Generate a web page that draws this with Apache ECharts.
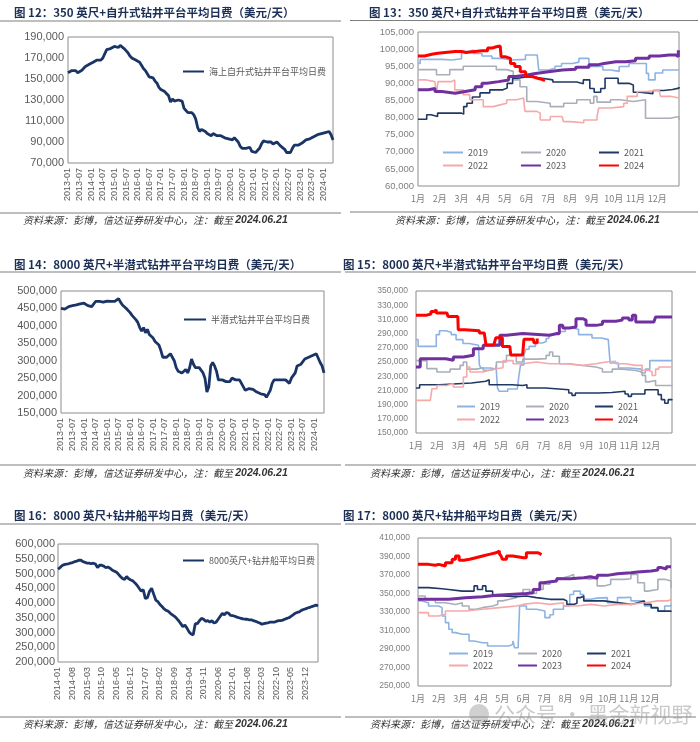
<!DOCTYPE html>
<html><head><meta charset="utf-8">
<script src="https://cdn.jsdelivr.net/npm/echarts@6/dist/echarts.min.js"></script>
<style>html,body{margin:0;padding:0;background:#fff}#c{width:700px;height:742px}</style>
</head><body><div id="c"></div>
<script>
// ---------- tick labels ----------
const monthLabels = ['1月','2月','3月','4月','5月','6月','7月','8月','9月','10月','11月','12月'];
function monthRange(y0, m0, n){ const out=[]; let y=y0, m=m0; for(let i=0;i<n;i++){ out.push(y+'-'+(m<10?'0'+m:m)); m++; if(m>12){m=1;y++;} } return out; }
const catsJack = monthRange(2013,1,138);
const catsSemi = monthRange(2013,1,138);
const catsDrill = monthRange(2014,1,126);
const yearNames = ['2019','2020','2021','2022','2023','2024'];

// ---------- long series (USD/day, monthly) ----------
const jackLong = [
156000,157000,158000,157000,158000,156000,155000,158000,160000,162000,161000,164000,
165000,166000,167000,168000,167000,168000,170000,170000,178000,179000,179000,180000,
181000,181000,180000,182000,181000,179000,177000,175000,172000,170000,169000,168000,
167000,166000,163000,160000,158000,155000,152000,153000,151000,148000,146000,142000,
140000,139000,138000,136000,134000,128000,131000,129000,130000,130000,131000,129000,
122000,120000,118000,119000,118000,116000,112000,104000,100000,102000,101000,100000,
98000,97000,96000,98000,97000,96000,97000,96000,95000,94000,95000,93000,
93000,92000,94000,93000,90000,86000,84000,85000,84000,83000,85000,81000,
80000,80000,81000,84000,88000,91000,91000,90000,89000,90000,88000,89000,
90000,88000,86000,85000,83000,80000,79000,80000,84000,87000,88000,87000,
88000,89000,90000,92000,92000,93000,94000,95000,96000,97000,98000,98000,
98000,99000,99000,100000,97000,92000];
const semiLong = [
450000,445000,448000,452000,455000,456000,458000,458000,460000,462000,463000,465000,
465000,462000,458000,455000,455000,452000,470000,468000,470000,470000,468000,470000,
471000,468000,470000,472000,470000,472000,478000,468000,460000,455000,450000,445000,
438000,430000,425000,418000,410000,395000,385000,395000,380000,390000,375000,370000,
365000,355000,350000,345000,330000,310000,305000,310000,305000,320000,325000,300000,
280000,270000,265000,265000,270000,275000,265000,280000,305000,290000,280000,275000,
280000,275000,265000,250000,210000,225000,285000,295000,285000,270000,245000,240000,
245000,250000,240000,245000,240000,250000,255000,245000,240000,245000,235000,225000,
215000,218000,220000,215000,218000,215000,210000,205000,205000,208000,203000,195000,
198000,215000,235000,245000,247000,245000,243000,245000,248000,245000,247000,235000,
250000,255000,265000,285000,290000,290000,295000,305000,310000,310000,312000,315000,
318000,320000,315000,295000,285000,265000];
const drillLong = [
515000,520000,527000,530000,532000,533000,535000,537000,540000,542000,545000,545000,
540000,538000,535000,535000,533000,535000,532000,520000,528000,528000,525000,520000,
522000,518000,512000,508000,505000,498000,490000,483000,480000,490000,482000,478000,
475000,468000,460000,450000,440000,445000,415000,418000,440000,450000,430000,410000,
405000,395000,388000,380000,375000,372000,365000,360000,355000,348000,340000,330000,
320000,325000,315000,302000,295000,292000,330000,330000,340000,348000,345000,338000,
340000,335000,340000,332000,335000,345000,355000,365000,360000,368000,365000,358000,
357000,355000,352000,350000,348000,346000,345000,345000,343000,343000,340000,338000,
335000,332000,328000,330000,332000,333000,335000,335000,335000,338000,340000,340000,
342000,345000,348000,350000,355000,360000,365000,368000,370000,375000,378000,380000,
383000,385000,388000,390000,393000,390000];

// ---------- yearly series: [month position (0 = 1 Jan), USD/day] ----------
const jack2019 = [[0,95800],[0.1,97000],[0.35,97000],[1.1,96800],[1.55,97200],[2.0,99300],[2.3,99700],[2.55,98700],[2.94,98000],[3.4,97300],[3.86,96800],[4.3,97000],[4.94,98300],[5.48,98600],[5.55,93900],[6.0,94400],[6.3,95000],[6.6,95800],[7.1,96200],[7.4,97300],[7.86,94900],[8.5,93900],[8.86,93500],[9.25,94900],[9.7,95800],[10.3,95800],[10.5,92900],[10.6,91000],[10.9,93000],[11.25,93900],[12,93900]];
const jack2020 = [[0,94000],[0.85,92500],[1.46,94000],[2.08,95000],[3.3,95000],[3.6,94000],[4.08,93500],[4.38,91000],[4.69,89000],[5.0,84700],[5.46,84200],[6.08,83200],[6.7,84200],[7.3,85200],[7.92,84200],[8.08,86200],[8.23,84500],[8.85,85200],[9.3,84700],[9.9,85200],[10.46,79800],[11.15,79800],[11.6,80300],[12,79200]];
const jack2021 = [[0,79500],[0.4,80800],[0.6,80300],[0.9,81300],[1.5,81300],[2.0,81000],[2.1,83200],[2.25,84200],[2.5,86000],[2.85,87200],[3.3,88100],[3.9,88600],[4.1,90000],[4.35,91500],[4.6,92000],[5.1,91500],[5.7,91000],[6.2,90400],[6.9,90400],[7.3,89900],[7.6,91000],[7.9,88500],[8.1,87400],[8.4,88500],[8.6,91500],[9.0,91500],[9.2,90000],[9.7,89500],[9.9,87400],[10.2,87000],[10.8,87900],[11.3,88200],[11.7,88600],[12,88900]];
const jack2022 = [[0,91000],[0.38,90500],[0.77,90000],[0.85,87200],[0.92,90500],[1.54,90500],[1.62,91000],[1.69,88100],[2.08,86700],[2.38,85200],[3.0,83200],[3.46,83700],[3.77,84200],[4.08,85200],[4.54,85700],[4.85,86200],[4.92,81800],[5.46,81300],[5.62,79300],[6.08,80300],[6.62,80300],[6.69,78800],[7.0,78500],[7.62,79300],[8.23,80300],[8.31,82800],[8.85,83200],[9.46,84200],[9.62,86200],[10.08,87600],[10.54,88100],[11.08,88100],[11.15,86200],[11.6,85700],[12,85700]];
const jack2023 = [[0,88100],[0.48,88500],[0.78,87600],[1.09,87100],[1.71,87600],[2.17,88100],[2.63,89000],[2.94,90000],[3.17,90500],[3.71,91000],[4.17,92000],[4.48,92400],[4.94,92900],[5.4,93400],[6.0,93900],[6.63,94100],[7.25,94700],[7.86,95400],[8.25,95800],[8.55,96300],[9.1,96300],[9.55,96600],[10.0,97300],[10.63,98000],[11.1,98300],[11.55,98300],[11.86,97800],[11.97,99700],[12,99700]];
const jack2024 = [[0,98000],[0.3,98500],[0.63,98800],[0.9,99300],[1.7,99300],[2.0,99000],[2.2,99500],[2.94,99500],[3.2,100300],[3.4,100700],[3.6,100900],[3.78,100800],[3.82,97800],[4.0,97300],[4.25,95800],[4.45,94900],[4.7,93400],[4.95,92000],[5.25,91500],[5.5,91000],[5.78,90500]];

const semi2019 = [[0,281500],[0.1,272000],[0.64,272000],[0.95,288500],[1.1,294000],[1.4,292000],[1.65,288500],[1.88,281500],[2.2,276000],[2.5,273500],[2.93,273000],[2.97,246000],[3.05,241500],[3.5,240000],[3.75,245000],[3.82,213400],[3.9,208700],[4.3,212000],[4.75,213000],[4.82,229800],[4.9,246000],[5.06,260000],[5.15,268000],[5.3,272000],[5.6,276800],[5.92,279000],[6.1,283000],[6.23,288500],[6.7,293000],[7.0,297900],[7.3,296000],[7.62,288500],[8.25,283800],[8.7,281500],[9.02,278000],[9.1,248600],[9.49,241500],[10.0,240000],[10.57,234500],[10.75,240000],[10.96,252000],[12,252000]];
const semi2020 = [[0,252000],[0.51,240600],[0.98,236000],[1.6,240000],[2.07,245300],[2.22,250000],[2.38,240000],[2.84,242000],[3.15,238300],[3.46,240600],[3.77,250000],[4.24,259400],[4.7,250000],[5.0,254000],[5.64,254700],[6.1,259400],[6.26,264000],[6.41,258000],[6.72,247600],[7.19,245000],[7.81,243000],[8.43,240600],[8.74,236000],[9.2,240000],[9.67,238000],[10.3,236000],[10.6,231200],[10.76,222000],[10.92,224000],[11.23,217000],[12,216000]];
const semi2021 = [[0,213400],[0.17,218000],[0.9,218000],[1.1,220400],[2.6,222800],[3.27,225000],[3.43,218000],[4.5,217000],[5.0,218000],[5.2,213400],[6.07,211000],[7.16,206300],[7.31,203000],[7.47,206300],[8.55,207000],[9.18,208700],[9.8,205000],[9.95,201600],[10.1,205000],[10.73,211000],[11.2,211000],[11.35,204000],[11.5,197000],[11.66,192000],[11.82,197000],[12,196000]];
const semi2022 = [[0,196000],[0.67,193700],[0.75,212400],[0.98,217000],[1.44,219500],[1.75,214700],[2.07,214700],[2.22,228900],[2.38,243000],[2.53,236000],[3.15,238300],[3.46,240600],[3.77,242000],[4.08,252000],[4.55,247600],[5.0,250000],[5.64,247600],[6.26,247600],[7.03,245300],[7.81,247600],[8.43,250000],[8.9,251000],[9.36,247600],[9.83,245300],[10.3,245300],[10.6,238300],[10.92,236000],[11.07,231000],[11.23,240000],[11.38,243000],[12,243000]];
const semi2023 = [[0,243000],[0.2,254700],[0.98,254700],[1.4,252500],[1.75,257000],[2.22,259400],[2.69,268800],[3.15,273500],[3.6,274000],[3.78,273500],[3.93,287600],[4.24,290000],[5.0,287600],[6.26,290000],[6.57,290000],[6.72,301600],[6.88,298000],[7.19,299300],[7.5,311000],[7.81,309000],[7.97,301600],[8.43,303000],[8.74,307300],[9.36,309000],[9.67,312000],[9.98,309000],[10.14,315700],[10.3,306300],[10.92,306300],[11.15,305000],[11.23,313400],[12,313400]];
const semi2024 = [[0,316000],[0.5,317500],[0.7,321000],[0.85,323500],[0.95,319000],[1.45,318000],[1.5,314000],[1.96,312000],[1.98,295500],[2.3,294000],[2.97,291000],[3.2,290000],[3.28,274000],[3.65,274000],[3.74,284000],[3.95,284000],[4.05,272000],[4.4,272000],[4.44,260000],[5.0,260000],[5.06,282000],[5.5,282000],[5.53,277000],[5.6,277000],[5.68,283000]];

const drill2019 = [[0,342000],[0.18,340000],[0.5,336500],[0.98,334700],[1.14,325700],[1.3,318500],[1.46,311300],[1.62,307700],[1.78,306000],[2.1,306000],[2.42,298600],[2.66,296800],[3.06,296800],[3.3,293200],[3.98,293200],[4.3,295000],[4.5,298600],[4.58,291400],[4.75,291400],[4.82,336500],[5.14,332900],[5.62,331000],[6.02,323900],[6.26,327000],[6.42,333000],[6.9,336500],[7.2,349000],[7.38,352600],[7.7,349000],[7.86,343700],[8.18,345000],[8.5,345500],[8.98,340000],[9.46,345500],[9.78,346000],[10.1,342000],[10.42,342000],[10.74,336500],[11.06,334000],[11.38,331000],[11.7,336500],[12,338000]];
const drill2020 = [[0,347300],[0.34,343700],[0.82,340000],[1.3,338200],[1.78,340000],[2.1,336500],[2.42,332900],[2.74,334700],[3.06,336500],[3.54,338200],[3.78,342000],[4.02,343700],[4.34,345500],[4.66,349000],[4.98,354400],[5.3,350000],[5.62,354400],[5.94,360000],[6.26,363500],[6.58,367000],[6.9,368900],[7.2,370600],[7.38,367000],[7.7,365300],[8.18,367100],[8.5,358200],[8.82,360000],[9.14,365300],[9.78,366000],[10.1,370600],[10.42,361600],[10.74,352600],[10.9,354400],[11.38,365300],[11.7,363500],[12,356300]];
const drill2021 = [[0,356300],[0.5,355200],[1.14,354400],[1.46,352600],[2.1,352600],[2.66,358200],[2.82,354400],[3.06,358200],[3.22,352600],[3.54,347300],[4.02,346500],[4.66,347300],[5.14,345500],[5.62,343700],[6.26,343700],[6.9,342000],[7.06,338200],[7.38,339500],[7.54,345500],[7.7,347300],[7.86,342000],[8.34,342000],[8.82,340100],[9.46,338200],[10.1,340000],[10.42,342000],[10.74,338200],[11.06,334700],[11.38,331000],[11.7,331000],[12,330200]];
const drill2022 = [[0,329300],[0.5,325700],[0.98,327500],[1.3,331100],[1.78,331100],[2.26,332900],[3.06,334700],[3.86,336500],[4.66,338200],[4.98,340000],[5.62,338200],[6.26,340000],[6.9,336500],[7.54,338200],[8.18,336500],[8.82,338200],[9.46,338200],[10.1,340000],[10.74,342000],[11.38,342000],[11.86,343700],[12,342000]];
const drill2023 = [[0,343700],[0.82,343700],[1.46,345500],[2.26,346500],[3.06,348000],[3.7,349000],[4.34,350000],[5.14,350800],[5.46,354400],[5.78,361600],[5.94,363500],[6.58,366000],[7.2,367000],[7.86,368200],[8.18,366500],[8.5,369600],[8.98,371400],[9.46,372500],[10.1,373200],[10.42,374300],[11.06,375400],[11.38,378000],[11.54,376500],[11.78,379000],[12,379700]];
const drill2024 = [[0,381500],[0.5,380500],[0.82,381500],[0.98,379700],[1.3,383300],[1.62,387000],[1.78,390500],[1.95,386000],[2.18,387000],[2.45,388700],[2.74,390500],[3.06,392300],[3.38,394000],[3.7,396000],[3.86,393000],[3.94,390500],[4.0,387000],[4.2,390500],[4.5,388700],[5.0,388700],[5.14,394000],[5.6,394000],[5.7,392000],[5.86,392500]];

// ---------- styling ----------
const NAVY = '#1a3466';
const yearColors = {'2019':'#8DB3E2','2020':'#A9AEB8','2021':'#203864','2022':'#F5A9A9','2023':'#7030A0','2024':'#FF0000'};
const yearWidths = {'2019':1.6,'2020':1.6,'2021':1.6,'2022':1.6,'2023':3,'2024':3};
const FONT = '"Liberation Sans", "Noto Sans CJK SC", sans-serif';
const CJK = '"Noto Sans CJK SC", "Liberation Sans", sans-serif';
const fmt = v => String(v).replace(/\B(?=(\d{3})+(?!\d))/g, ',');

const chart = echarts.init(document.getElementById('c'), null, {renderer:'canvas'});

const gridBox = {show:true, borderColor:'#8c8c8c', borderWidth:1, backgroundColor:'transparent'};
const grids = [
  Object.assign({left:68, top:37, width:265, height:126}, gridBox),
  Object.assign({left:418, top:32, width:261, height:154}, gridBox),
  Object.assign({left:61, top:291, width:263, height:122}, gridBox),
  Object.assign({left:416, top:291, width:256, height:142}, gridBox),
  Object.assign({left:58, top:544, width:260, height:118}, gridBox),
  Object.assign({left:418, top:538, width:253, height:148}, gridBox)
];

function catAxis(gi, cats, interval){
  return {type:'category', gridIndex:gi, data:cats, boundaryGap:false,
    axisLine:{show:false}, axisTick:{show:false}, splitLine:{show:false},
    axisLabel:{rotate:90, interval:interval, fontSize:9, color:'#595959', margin:5, fontFamily:FONT}};
}
function monAxis(gi){
  return {type:'value', gridIndex:gi, min:0, max:12, interval:1,
    axisLine:{show:false}, axisTick:{show:false}, splitLine:{show:false},
    axisLabel:{fontSize:9, color:'#7f7f7f', margin:8, fontFamily:CJK, showMaxLabel:false,
      formatter: v => monthLabels[Math.round(v)] || ''}};
}
function valAxis(gi, min, max, step, size, color, margin){
  return {type:'value', gridIndex:gi, min:min, max:max, interval:step,
    axisLine:{show:false}, axisTick:{show:false}, splitLine:{show:false},
    axisLabel:{fontSize:size, color:color, margin:margin, fontFamily:FONT, formatter: fmt}};
}

const series = [];
function longSeries(name, data, gi){
  series.push({name:name, type:'line', xAxisIndex:gi, yAxisIndex:gi, data:data, symbol:'none',
    lineStyle:{color:NAVY, width:2.8}, itemStyle:{color:NAVY}});
}
function yearGroup(gi, arrs){
  yearNames.forEach((y, k) => {
    series.push({name:y, type:'line', xAxisIndex:gi, yAxisIndex:gi, data:arrs[k], step:'end', symbol:'none',
      lineStyle:{color:yearColors[y], width:yearWidths[y]}, itemStyle:{color:yearColors[y]}, z:2+k});
  });
}
longSeries('海上自升式钻井平台平均日费', jackLong, 0);
yearGroup(1, [jack2019, jack2020, jack2021, jack2022, jack2023, jack2024]);
longSeries('半潜式钻井平台平均日费', semiLong, 2);
yearGroup(3, [semi2019, semi2020, semi2021, semi2022, semi2023, semi2024]);
longSeries('8000英尺+钻井船平均日费', drillLong, 4);
yearGroup(5, [drill2019, drill2020, drill2021, drill2022, drill2023, drill2024]);

const legBase = {selectedMode:false, padding:0, itemHeight:10, itemStyle:{opacity:0},
  textStyle:{fontSize:9, color:'#595959', fontFamily:CJK}};
function leg(data, left, top, w, gap){ return Object.assign({}, legBase, {data:data, left:left, top:top, itemWidth:w, itemGap:gap}); }
const legends = [
  leg(['海上自升式钻井平台平均日费'], 182, 67, 21, 10),
  leg(['半潜式钻井平台平均日费'], 183, 315, 22, 10),
  leg(['8000英尺+钻井船平均日费'], 182, 556, 21, 10),
  leg(['2019','2020','2021'], 442, 148, 20, 32),
  leg(['2022','2023','2024'], 442, 161, 20, 32),
  leg(['2019','2020','2021'], 456, 402, 18, 25),
  leg(['2022','2023','2024'], 456, 415, 18, 25),
  leg(['2019','2020','2021'], 448, 649, 19, 24),
  leg(['2022','2023','2024'], 448, 661, 19, 24)
];

const titles = [
  ['图 12：350 英尺+自升式钻井平台平均日费（美元/天）', 14, 13],
  ['图 13：350 英尺+自升式钻井平台平均日费（美元/天）', 369, 13],
  ['图 14：8000 英尺+半潜式钻井平台平均日费（美元/天）', 14, 265],
  ['图 15：8000 英尺+半潜式钻井平台平均日费（美元/天）', 343, 265],
  ['图 16：8000 英尺+钻井船平均日费（美元/天）', 14, 516],
  ['图 17：8000 英尺+钻井船平均日费（美元/天）', 343, 516]
];
const rules = [[0,341,21],[350,698,20.5],[0,341,272],[345,696,272],[0,341,524],[345,696,524],
               [0,341,213],[350,698,212],[0,341,465],[345,696,465],[0,341,717],[345,696,717]];
const sources = [[23,220],[395,220],[23,473],[370,473],[23,724],[370,724]];
const SRC = '资料来源：彭博，信达证券研发中心，注：截至 ';
const SRC_DATE = '2024.06.21';

const graphic = [];
titles.forEach(t => graphic.push({type:'text', x:t[1], y:t[2], z:10,
  style:{text:t[0], fill:'#1c2f55', font:'bold 11.5px ' + CJK, verticalAlign:'middle'}}));
rules.forEach(r => graphic.push({type:'line', shape:{x1:r[0], y1:r[2], x2:r[1], y2:r[2]},
  style:{stroke:'#7f7f7f', lineWidth:1.2}}));
sources.forEach(s => graphic.push({type:'text', x:s[0], y:s[1], z:10,
  style:{text:'{a|' + SRC + '}{b|' + SRC_DATE + '}', verticalAlign:'middle',
    rich:{a:{fontSize:10, fontStyle:'italic', fill:'#333', fontFamily:CJK},
          b:{fontSize:10.5, fontStyle:'italic', fontWeight:'bold', fill:'#333', fontFamily:FONT}}}}));
graphic.push({type:'circle', shape:{cx:479, cy:714, r:10}, style:{fill:'rgba(150,150,150,0.45)'}, z:20});
graphic.push({type:'text', x:494, y:714, z:20,
  style:{text:'公众号 · 黑金新视野', fill:'rgba(150,150,150,0.5)', font:'21px ' + CJK, verticalAlign:'middle'}});

chart.setOption({
  animation:false,
  backgroundColor:'#ffffff',
  textStyle:{fontFamily:FONT},
  grid:grids,
  xAxis:[catAxis(0, catsJack, 5), monAxis(1), catAxis(2, catsSemi, 5), monAxis(3), catAxis(4, catsDrill, 6), monAxis(5)],
  yAxis:[
    valAxis(0, 70000, 190000, 20000, 11, '#595959', 4),
    valAxis(1, 60000, 105000, 5000, 9.5, '#7f7f7f', 4),
    valAxis(2, 150000, 500000, 50000, 11, '#595959', 4),
    valAxis(3, 150000, 350000, 20000, 8.5, '#7f7f7f', 8),
    valAxis(4, 200000, 600000, 50000, 11, '#595959', 3),
    valAxis(5, 250000, 410000, 20000, 8.5, '#7f7f7f', 8)
  ],
  legend:legends,
  series:series,
  graphic:graphic
});
</script>
</body></html>
